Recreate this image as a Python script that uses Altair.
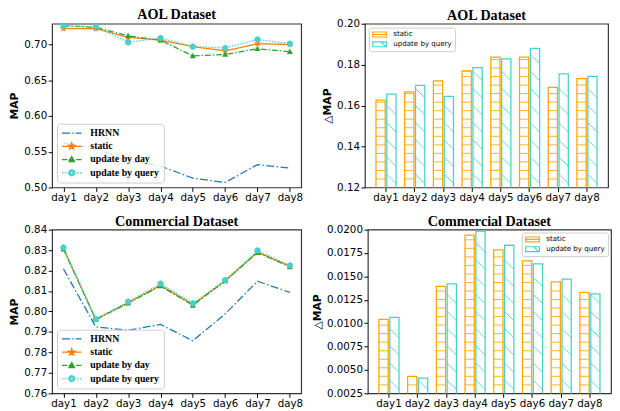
import math
import altair as alt
import pandas as pd

# ---------------- data ----------------
days = ["day1", "day2", "day3", "day4", "day5", "day6", "day7", "day8"]
line_series = ["HRNN", "static", "update by day", "update by query"]
bar_series = ["static", "update by query"]

aol_hrnn = [0.562, 0.555, 0.537, 0.530, 0.513, 0.507, 0.532, 0.527]
aol_static = [0.722, 0.722, 0.710, 0.706, 0.697, 0.691, 0.701, 0.700]
aol_day = [0.726, 0.724, 0.712, 0.706, 0.684, 0.686, 0.694, 0.690]
aol_query = [0.726, 0.725, 0.703, 0.709, 0.697, 0.695, 0.707, 0.701]

com_hrnn = [0.8208, 0.7925, 0.7908, 0.7937, 0.7857, 0.7988, 0.8148, 0.8093]
com_static = [0.8308, 0.7962, 0.8043, 0.8128, 0.8034, 0.8150, 0.8290, 0.8222]
com_day = [0.8305, 0.7960, 0.8041, 0.8125, 0.8030, 0.8149, 0.8288, 0.8218]
com_query = [0.8313, 0.7963, 0.8048, 0.8136, 0.8040, 0.8153, 0.8298, 0.8225]

aol_delta_static = [0.1627, 0.1667, 0.1721, 0.1769, 0.1837, 0.1837, 0.1689, 0.1732]
aol_delta_query = [0.1656, 0.1699, 0.1645, 0.1786, 0.1828, 0.1880, 0.1755, 0.1743]

com_delta_static = [0.01041, 0.00431, 0.01393, 0.01941, 0.01784, 0.01665, 0.01442, 0.01330]
com_delta_query = [0.01062, 0.00413, 0.01421, 0.01983, 0.01833, 0.01634, 0.01470, 0.01313]

aol_map_ticks = [0.50, 0.55, 0.60, 0.65, 0.70]
com_map_ticks = [0.76, 0.77, 0.78, 0.79, 0.80, 0.81, 0.82, 0.83, 0.84]
aol_delta_ticks = [0.12, 0.14, 0.16, 0.18, 0.20]
com_delta_ticks = [0.0025, 0.0050, 0.0075, 0.0100, 0.0125, 0.0150, 0.0175, 0.0200]

# ---------------- styles ----------------
line_colors = ["#1f77b4", "#ff7f0e", "#2ca02c", "#48D1CC"]
line_dashes = [[8, 2.5, 1.5, 2.5], [1, 0], [6, 2, 1.5, 2], [1.5, 1.5]]
bar_colors = ["#FFA500", "#48D1CC"]

PW_L, PW_R, PH = 254, 248, 167


def poly(pts):
    return "M" + "L".join(f"{x:.3f},{y:.3f}" for x, y in pts) + "Z"


def star(r=1.0, cx=0.0, cy=0.0):
    pts = []
    for k in range(10):
        a = -math.pi / 2 + k * math.pi / 5
        rr = r if k % 2 == 0 else r * 0.42
        pts.append((cx + rr * math.cos(a), cy + rr * math.sin(a)))
    return poly(pts)


def hexagon(r=1.0, cx=0.0, cy=0.0):
    return poly([(cx + r * math.cos(-math.pi / 2 + k * math.pi / 3),
                  cy + r * math.sin(-math.pi / 2 + k * math.pi / 3)) for k in range(6)])


def tri(r=1.0, cx=0.0, cy=0.0):
    return poly([(cx, cy - r), (cx + 0.95 * r, cy + 0.75 * r), (cx - 0.95 * r, cy + 0.75 * r)])


marker_shapes = {"static": (star(), 60), "update by day": (tri(), 40), "update by query": (hexagon(), 48)}

legend_line_paths = [
    "M-1,0H-0.15M0.05,0H0.2M0.4,0H1",
    "M-1,0H1" + star(0.36) + star(0.2),
    "M-1,0H-0.45M-0.3,0H-0.2M0.45,0H1" + tri(0.3) + tri(0.15),
    "M-1,0H-0.85M-0.7,0H-0.55M-0.4,0H-0.3M0.3,0H0.4M0.55,0H0.7M0.85,0H1" + hexagon(0.32) + hexagon(0.16),
]
legend_bar_paths = [
    "M-1,-0.36H1V0.36H-1ZM-1,0H1",
    "M-1,-0.36H1V0.36H-1ZM0.2,-0.36L0.9,0.36",
]


def panel_title(text, off):
    return alt.TitleParams(text=text, frame="group", offset=off, anchor="middle")


def line_panel(title, vals, domain, ticks, fmt, toff):
    df = pd.DataFrame([{"day": d, "series": s, "value": v}
                       for s, arr in zip(line_series, vals) for d, v in zip(days, arr)])
    x = alt.X("day:N", sort=days, title=None,
              scale=alt.Scale(type="point", padding=0.35), axis=alt.Axis(labelAngle=0))
    y = alt.Y("value:Q", title="MAP", scale=alt.Scale(domain=domain, nice=False, zero=False),
              axis=alt.Axis(values=ticks, format=fmt))
    base = alt.Chart(df)
    layers = []
    for s, col, dash in zip(line_series, line_colors, line_dashes):
        sub = base.transform_filter(alt.datum.series == s)
        layers.append(sub.mark_line(strokeWidth=1.3, color=col, strokeDash=dash).encode(x=x, y=y))
        if s in marker_shapes:
            shp, sz = marker_shapes[s]
            layers.append(sub.mark_point(filled=True, shape=shp, size=sz, opacity=1, color=col).encode(x=x, y=y))
    leg = alt.Legend(title=None, orient="bottom-left", offset=5, labelFont="Liberation Serif",
                     labelFontWeight="bold", labelFontSize=10, labelColor="black",
                     symbolSize=400, symbolStrokeWidth=1.3, clipHeight=11, rowPadding=2.5,
                     padding=4, labelOffset=8, fillColor="rgba(255,255,255,0.8)",
                     strokeColor="#cccccc", cornerRadius=3)
    legend_layer = base.transform_filter("false").mark_point(filled=False, strokeWidth=1.3, opacity=1).encode(
        x=x, y=y,
        color=alt.Color("series:N", scale=alt.Scale(domain=line_series, range=line_colors), legend=leg),
        shape=alt.Shape("series:N", scale=alt.Scale(domain=line_series, range=legend_line_paths), legend=leg),
    )
    layers.append(legend_layer)
    return alt.layer(*layers).properties(width=PW_L, height=PH, title=panel_title(title, toff))


def bar_panel(title, s_vals, q_vals, domain, ticks, fmt, orient, offset, toff):
    df = pd.DataFrame([{"day": d, "variant": s, "value": v}
                       for s, arr in zip(bar_series, [s_vals, q_vals]) for d, v in zip(days, arr)])
    px = PH / (domain[1] - domain[0])
    hstep, dstep, half = 8.7 / px, 17.5 / px, 4.7 / px
    hatch_h, hatch_d = [], []
    for d, v in zip(days, s_vals):
        k = 1
        while domain[0] + k * hstep < v - 1.0 / px:
            hatch_h.append({"day": d, "variant": "static", "value": domain[0] + k * hstep})
            k += 1
    for d, v in zip(days, q_vals):
        k = 0
        while domain[0] + (k + 0.5) * dstep + half <= v:
            hatch_d.append({"day": d, "variant": "update by query", "value": domain[0] + (k + 0.5) * dstep})
            k += 1
    x = alt.X("day:N", sort=days, title=None,
              scale=alt.Scale(paddingInner=0.3, paddingOuter=0.385), axis=alt.Axis(labelAngle=0))
    xo = alt.XOffset("variant:N", sort=bar_series, scale=alt.Scale(domain=bar_series, paddingInner=0.15))
    y = alt.Y("value:Q", title="△MAP", scale=alt.Scale(domain=domain, nice=False, zero=False),
              axis=alt.Axis(values=ticks, format=fmt))
    layers = []
    base = alt.Chart(df)
    for s, col in zip(bar_series, bar_colors):
        layers.append(base.transform_filter(alt.datum.variant == s).mark_bar(
            filled=False, stroke=col, strokeWidth=1.3, clip=True).encode(x=x, xOffset=xo, y=y))
    layers.append(alt.Chart(pd.DataFrame(hatch_h)).mark_point(
        filled=False, shape="M-1,0L1,0", size=85, strokeWidth=1, opacity=0.85, stroke=bar_colors[0]).encode(
        x=x, xOffset=xo, y=y))
    layers.append(alt.Chart(pd.DataFrame(hatch_d)).mark_point(
        filled=False, shape="M-1,-1L1,1", size=85, strokeWidth=1, opacity=0.85, stroke=bar_colors[1]).encode(
        x=x, xOffset=xo, y=y))
    leg = alt.Legend(title=None, orient=orient, offset=offset, labelFont="DejaVu Sans",
                     labelFontSize=7.2, labelColor="black", symbolSize=196, symbolStrokeWidth=1.2,
                     clipHeight=8, rowPadding=2, padding=3, labelOffset=6,
                     fillColor="rgba(255,255,255,0.8)", strokeColor="#cccccc", cornerRadius=2)
    layers.append(base.transform_filter("false").mark_point(filled=False, strokeWidth=1.2, opacity=1).encode(
        x=x, y=y,
        color=alt.Color("variant:N", scale=alt.Scale(domain=bar_series, range=bar_colors), legend=leg),
        shape=alt.Shape("variant:N", scale=alt.Scale(domain=bar_series, range=legend_bar_paths), legend=leg)))
    return alt.layer(*layers).properties(width=PW_R, height=PH, title=panel_title(title, toff))


tl = line_panel("AOL Dataset", [aol_hrnn, aol_static, aol_day, aol_query], [0.50, 0.729], aol_map_ticks, ".2f", 0)
bl = line_panel("Commercial Dataset", [com_hrnn, com_static, com_day, com_query], [0.76, 0.84], com_map_ticks, ".2f", -5)
tr = bar_panel("AOL Dataset", aol_delta_static, aol_delta_query, [0.12, 0.20], aol_delta_ticks, ".2f", "top-left", 4, -5)
br = bar_panel("Commercial Dataset", com_delta_static, com_delta_query, [0.0025, 0.0200], com_delta_ticks, ".4f", "top-right", 3, -5)

row1 = alt.hconcat(tl, tr, spacing=17).resolve_scale(color="independent", shape="independent")
row2 = alt.hconcat(bl, br, spacing=7).resolve_scale(color="independent", shape="independent")

chart = alt.vconcat(row1, row2, spacing=10).resolve_scale(
    color="independent", shape="independent"
).properties(
    padding={"left": 0, "top": -6, "right": 0, "bottom": 0}
).configure_view(
    stroke="#333333", strokeWidth=1.2
).configure_axis(
    labelFont="DejaVu Sans", labelFontSize=10.5, labelColor="black", tickColor="black",
    tickSize=4, labelPadding=1.5, domain=False, grid=False,
    titleFont="DejaVu Sans", titleFontWeight="bold", titleFontSize=11, titleColor="black", titlePadding=4,
).configure_title(
    font="Liberation Serif", fontSize=14.4, fontWeight="bold", color="black"
)

chart.save("out.html", embed_options={"renderer": "svg", "actions": False})
